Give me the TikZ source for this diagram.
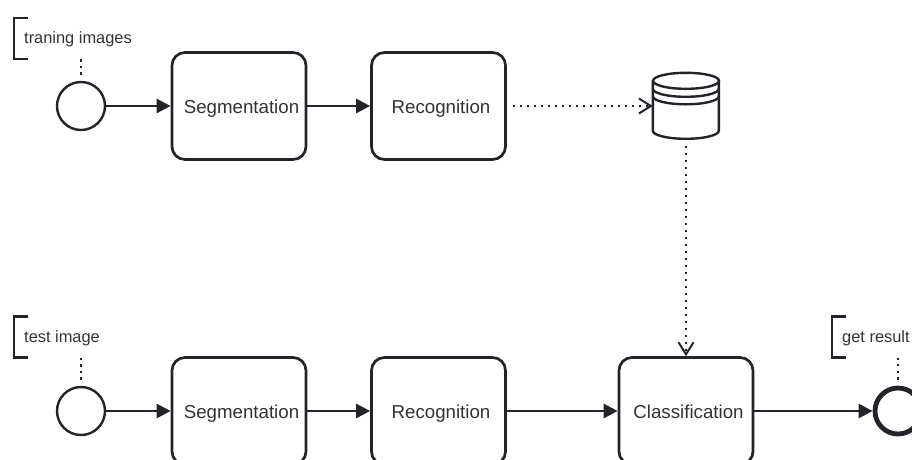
\documentclass[tikz,border=0pt]{standalone}
\usepackage{xcolor}
\usepackage{fontspec}
\setmainfont{Liberation Sans}
\usetikzlibrary{arrows.meta}
\definecolor{strokedark}{RGB}{34, 36, 42}
\definecolor{textdark}{RGB}{50, 50, 52}
\tikzset{
    task/.style={draw=strokedark, line width=2.7pt, rounded corners=13pt, minimum width=134pt, minimum height=107pt, inner sep=0pt, text=textdark, text height=14pt, text depth=0pt, font=\fontsize{18.7}{20}\selectfont, execute at begin node={\hspace*{5pt}}},
    startevent/.style={circle, draw=strokedark, line width=2.4pt, minimum size=48pt, inner sep=0pt},
    endevent/.style={circle, draw=strokedark, line width=4.8pt, minimum size=46pt, inner sep=0pt},
    notebox/.style={anchor=west, minimum height=41pt, inner sep=0pt, inner xsep=10pt, text=textdark, text height=12pt, text depth=1.5pt, font=\fontsize{16.4}{18}\selectfont},
    bracket/.style={draw=strokedark, line width=2.4pt},
    flow/.style={draw=strokedark, line width=2.7pt, -{Triangle[length=14pt,width=14pt]}},
    dataflow/.style={draw=strokedark, line width=2.4pt, dash pattern=on 2.4pt off 4.6pt, shorten <=6pt, -{Straight Barb[length=12pt,width=15pt,line width=2pt]}},
    assoc/.style={draw=strokedark, line width=2.4pt, dash pattern=on 2.4pt off 4.2pt, shorten <=6pt},
    dbline/.style={draw=strokedark, line width=2.4pt}
}
\begin{document}
\begin{tikzpicture}[x=1pt,y=-1pt]
    \useasboundingbox (0,0) rectangle (912,459);
    \clip (0,0) rectangle (912,459);
    \node[startevent] (starttrain) at (81,106) {};
    \node[task] (segtrain) at (239,106) {Segmentation};
    \node[task] (rectrain) at (438.5,106) {Recognition};
    \node[inner sep=0pt, minimum width=66pt, minimum height=67pt] (store) at (686,106) {};
    \node[startevent] (starttest) at (81,411) {};
    \node[task] (segtest) at (239,411) {Segmentation};
    \node[task] (rectest) at (438.5,411) {Recognition};
    \node[task] (classify) at (686,411) {Classification};
    \node[endevent] (result) at (898,411) {};
    \node[notebox] (notetrain) at (14,38.5) {traning images};
    \node[notebox] (notetest) at (14,337) {test image};
    \node[notebox] (noteresult) at (832,337) {get result};
    \foreach \notename in {notetrain,notetest,noteresult}
        \draw[bracket] (\notename.north west) ++(14,0) -- ++(-14,0) -- ++(0,41) -- ++(14,0);
    \draw[dbline] (store.north) ++(0,8.5) ellipse[x radius=33,y radius=8];
    \draw[dbline] (store.north west) ++(0,8.5) -- ++(0,50) arc[start angle=180,end angle=0,x radius=33,y radius=8] -- ++(0,-50);
    \foreach \arcy in {16.5,24}
        \draw[dbline] (store.north west) ++(0,\arcy) arc[start angle=180,end angle=0,x radius=33,y radius=8];
    \draw[flow] (starttrain) -- (segtrain);
    \draw[flow] (segtrain) -- (rectrain);
    \draw[dataflow] (rectrain) -- (store);
    \draw[dataflow] (store) -- (classify);
    \draw[flow] (starttest) -- (segtest);
    \draw[flow] (segtest) -- (rectest);
    \draw[flow] (rectest) -- (classify);
    \draw[flow] (classify) -- (result);
    \draw[assoc] (starttrain) -- (starttrain |- notetrain.south);
    \draw[assoc] (starttest) -- (starttest |- notetest.south);
    \draw[assoc] (result) -- (result |- noteresult.south);
\end{tikzpicture}
\end{document}
